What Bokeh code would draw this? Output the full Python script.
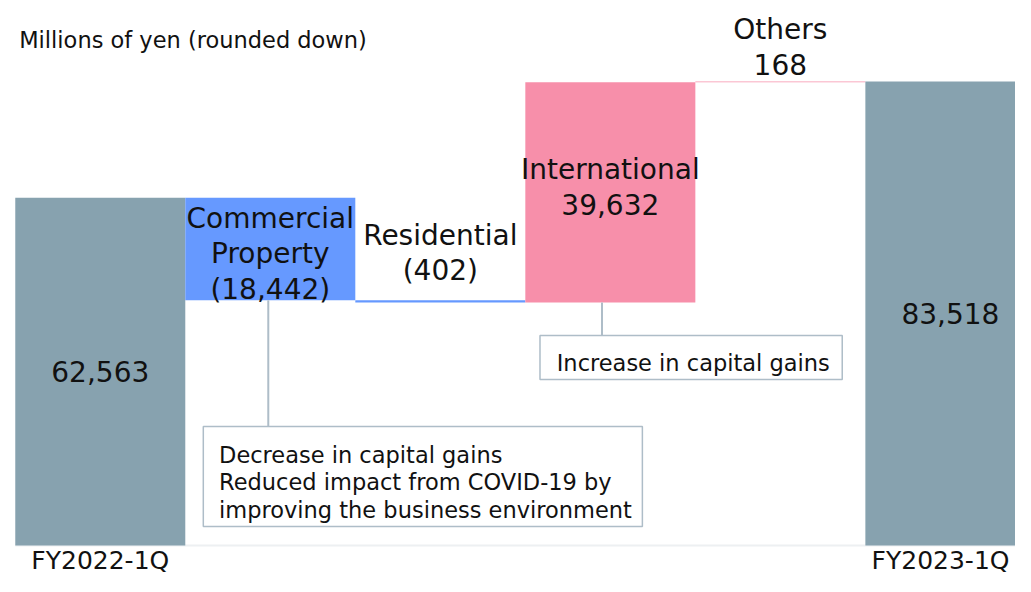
from bokeh.plotting import figure
from bokeh.models import Range1d, ColumnDataSource
from bokeh.core.properties import value
from bokeh.embed import file_html
from bokeh.resources import INLINE

# ---- data ----
categories = ["FY2022-1Q", "Commercial\nProperty", "Residential", "International", "Others", "FY2023-1Q"]
start_value = 62563
changes = [-18442, -402, 39632, 168]
end_value = 83518
unit_note = "Millions of yen (rounded down)"
callout_decrease = "Decrease in capital gains\nReduced impact from COVID-19 by\nimproving the business environment"
callout_increase = "Increase in capital gains"

# ---- layout constants (reference pixels) ----
W, H = 1015, 576
REF_W = 1031             # reference width squeezed into W
BAR_PX = 172.7           # bar width in reference pixels
X0 = 15                  # x of first bar's left edge
Y0 = 545                 # y of zero line
K = 0.005557             # pixels per million yen

def xd(px):
    return (px - X0) / BAR_PX - 0.5

def yd(py):
    return (Y0 - py) / K

GRAY = "#87A2AF"
BLUE = "#6699FF"
PINK = "#F78FAA"
EDGE = "#AEBDC8"
INK = "#111111"
FONT = "DejaVu Sans"

# waterfall geometry from data
bottoms, tops, colors, labels = [], [], [], []
bottoms.append(0); tops.append(start_value); colors.append(GRAY)
labels.append(f"{start_value:,}")
run = start_value
for c, name in zip(changes, categories[1:-1]):
    new = run + c
    bottoms.append(min(run, new)); tops.append(max(run, new))
    colors.append(PINK if c > 0 else BLUE)
    labels.append(name + "\n" + (f"{c:,}" if c > 0 else f"({-c:,})"))
    run = new
bottoms.append(0); tops.append(end_value); colors.append(GRAY)
labels.append(f"{end_value:,}")

n = len(categories)
xs = list(range(n))

p = figure(width=W, height=H, output_backend="svg", toolbar_location=None,
           x_range=Range1d(xd(0), xd(REF_W)),
           y_range=Range1d(yd(H), yd(0)),
           min_border=0)
p.axis.visible = False
p.grid.visible = False
p.outline_line_color = None
p.background_fill_color = "white"

# zero line
p.line(x=[-0.5, n - 0.5], y=[0, 0], line_color="#EDF0F2", line_width=2)

src = ColumnDataSource(dict(left=[x - 0.5 for x in xs], right=[x + 0.5 for x in xs],
                            bottom=bottoms, top=tops, color=colors))
p.quad(left="left", right="right", bottom="bottom", top="top", fill_color="color",
       line_color=None, source=src)

# bar labels: placement style per bar (anchor, pixel offset of block centre)
placement = [("mid", 0), ("top", 56), ("top", -47), ("mid", -5), ("top", -34), ("mid", 0)]
lx, ly = [], []
for i, (anchor, off) in enumerate(placement):
    base = (bottoms[i] + tops[i]) / 2 if anchor == "mid" else tops[i]
    lx.append(xs[i])
    ly.append(base - off / K)
p.text(x=lx, y=ly, text=labels, text_align="center", text_baseline="middle",
       text_font=value(FONT), text_font_size="28px", text_line_height=1.07,
       text_color=INK)

# category labels under totals
tot_idx = [0, n - 1]
tot_shift = [0, -10]
p.text(x=[xs[i] + s / BAR_PX for i, s in zip(tot_idx, tot_shift)], y=[yd(574)] * 2,
       text=[categories[i] for i in tot_idx], text_align="center", text_baseline="bottom",
       text_font=value(FONT), text_font_size="25px", text_color=INK)

# unit note
p.text(x=[xd(19)], y=[yd(39)], text=[unit_note], text_align="left", text_baseline="middle",
       text_font=value(FONT), text_font_size="22.5px", text_color=INK)

# callout 1 (Commercial Property)
p.segment(x0=[xd(272)], y0=[bottoms[1]], x1=[xd(272)], y1=[yd(426)], line_color=EDGE, line_width=2)
p.quad(left=[xd(206)], right=[xd(652)], top=[yd(426)], bottom=[yd(526)],
       fill_color="white", line_color=EDGE, line_width=1.5)
p.text(x=[xd(222)], y=[yd(482)], text=[callout_decrease], text_align="left",
       text_baseline="middle", text_font=value(FONT), text_font_size="22.5px",
       text_line_height=1.04, text_color=INK)

# callout 2 (International)
p.segment(x0=[xd(611)], y0=[bottoms[3]], x1=[xd(611)], y1=[yd(335)], line_color=EDGE, line_width=2)
p.quad(left=[xd(548)], right=[xd(855)], top=[yd(335)], bottom=[yd(379)],
       fill_color="white", line_color=EDGE, line_width=1.5)
p.text(x=[xd(565)], y=[yd(362)], text=[callout_increase], text_align="left",
       text_baseline="middle", text_font=value(FONT), text_font_size="22.5px",
       text_color=INK)

open("out.html", "w").write(file_html(p, INLINE))
